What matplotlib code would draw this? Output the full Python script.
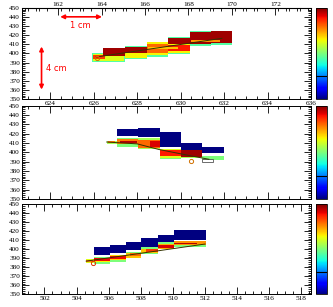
"""Three stacked cluster views (ROOT style) with track fit and colour palette."""
import matplotlib
matplotlib.use('Agg')
import matplotlib.pyplot as plt
from matplotlib.ticker import MultipleLocator
from matplotlib import colors, cm

# boxes: x0, x1, y0, y1, level (0..1 on the palette)
p1_x0 = [625.9, 625.95, 625.95, 626.45, 627.45, 627.45, 627.45, 628.45, 628.45, 628.45,
         629.4, 629.4, 629.4, 629.4, 630.45, 630.45, 631.4, 631.4, 628.5, 630.5]
p1_x1 = [627.45, 627.4, 626.5, 627.45, 628.45, 628.45, 628.45, 629.4, 629.4, 629.4,
         630.45, 630.45, 630.45, 630.45, 631.4, 631.4, 632.35, 632.35, 629.9, 631.8]
p1_y0 = [390.5, 391.5, 393.5, 397.5, 393.5, 394.5, 400.0, 396.5, 398.0, 401.0,
         399.5, 401.0, 403.0, 410.0, 408.5, 410.0, 409.5, 411.5, 404.5, 412.0]
p1_y1 = [400.0, 399.5, 398.0, 405.5, 408.5, 407.5, 407.5, 413.0, 412.0, 410.0,
         418.0, 417.0, 409.5, 417.0, 424.0, 423.0, 425.0, 424.5, 407.5, 415.0]
p1_lev = [0.45, 0.62, 0.85, 0.97, 0.45, 0.65, 0.97, 0.45, 0.65, 0.8,
          0.45, 0.65, 0.88, 0.97, 0.45, 0.97, 0.45, 0.97, 0.7, 0.75]

p2_x0 = [627.05, 628.05, 629.05, 630.0, 631.0,
         626.6, 626.65, 627.05, 627.05, 627.2, 628.05, 628.05, 628.6,
         629.05, 629.05, 629.05, 630.0, 630.0, 631.0]
p2_x1 = [628.05, 629.05, 630.0, 631.0, 632.0,
         627.05, 627.0, 628.05, 628.05, 628.0, 629.05, 629.05, 629.05,
         630.0, 630.0, 630.0, 631.0, 631.0, 632.0]
p2_y0 = [417.5, 416.0, 405.5, 400.0, 399.0,
         409.3, 409.8, 406.0, 408.5, 410.0, 403.0, 405.0, 406.0,
         392.5, 394.0, 396.0, 394.0, 395.0, 392.0]
p2_y1 = [424.7, 426.4, 421.5, 410.0, 405.4,
         412.3, 411.8, 415.0, 414.5, 412.5, 415.0, 413.0, 412.0,
         403.5, 403.0, 402.0, 402.0, 402.0, 396.0]
p2_lev = [0.0, 0.0, 0.0, 0.0, 0.0,
          0.55, 0.78, 0.5, 0.78, 0.95, 0.55, 0.8, 0.92,
          0.5, 0.62, 0.88, 0.55, 0.97, 0.5]

p3_x0 = [505.06, 506.06, 507.06, 508.04, 509.08, 510.06,
         504.56, 504.6, 505.08, 505.08, 505.08, 506.06, 506.06, 506.06,
         507.06, 507.06, 507.3, 508.04, 508.04, 508.3, 509.08, 509.08, 509.08,
         510.06, 510.06, 510.06]
p3_x1 = [506.06, 507.06, 508.04, 509.08, 510.06, 512.06,
         505.08, 505.05, 506.06, 506.06, 506.06, 507.06, 507.06, 507.06,
         508.04, 508.04, 508.04, 509.08, 509.08, 509.08, 510.06, 510.06, 510.06,
         512.06, 512.06, 511.5]
p3_y0 = [393.7, 395.5, 399.2, 403.0, 408.4, 411.0,
         385.0, 386.0, 384.0, 386.0, 387.5, 386.5, 388.0, 389.5,
         390.0, 391.0, 392.5, 394.4, 396.0, 397.5, 400.0, 401.0, 402.0,
         403.0, 404.8, 405.5]
p3_y1 = [402.2, 404.8, 408.5, 412.2, 416.5, 421.4,
         389.0, 388.5, 391.5, 391.0, 390.5, 394.0, 393.7, 392.5,
         397.5, 396.5, 395.5, 403.0, 401.0, 400.0, 408.4, 406.0, 404.5,
         409.6, 409.0, 407.5]
p3_lev = [0.0, 0.0, 0.0, 0.0, 0.0, 0.0,
          0.62, 0.78, 0.5, 0.65, 0.9, 0.5, 0.68, 0.9,
          0.5, 0.7, 0.8, 0.5, 0.7, 0.85, 0.5, 0.72, 0.92,
          0.5, 0.75, 0.95]

# track fits and hit markers
p1_trk_x = [626.1, 631.9]
p1_trk_y = [396.0, 416.5]
p1_hit_x = [626.15]
p1_hit_y = [394.5]
p2_trk_x = [626.6, 628.0, 629.0, 630.4, 631.3]
p2_trk_y = [411.0, 409.0, 403.0, 396.5, 392.5]
p2_hit_x = [630.5]
p2_hit_y = [391.0]
p3_trk_x = [504.6, 512.0]
p3_trk_y = [387.0, 406.0]
p3_hit_x = [505.0]
p3_hit_y = [385.3]

xlim_top = (622.7, 636.0)
xlim_bot = (500.6, 518.6)
top_shift = 462.36
y_ticks = list(range(350, 451, 10))


def style_axes(ax, xlim, label_bottom):
    ax.set_xlim(*xlim)
    ax.set_ylim(350, 450)
    ax.xaxis.set_major_locator(MultipleLocator(2))
    ax.xaxis.set_minor_locator(MultipleLocator(0.5))
    ax.set_yticks(y_ticks)
    ax.yaxis.set_minor_locator(MultipleLocator(2))
    ax.tick_params(which='both', direction='in', top=True, right=True, width=0.6,
                   labelsize=5.2, pad=1.5, labelbottom=label_bottom)
    ax.tick_params(which='major', length=5)
    ax.tick_params(which='minor', length=2.5)
    for s in ax.spines.values():
        s.set_linewidth(0.7)


def draw_boxes(ax, x0, x1, y0, y1, lev, cmap, norm):
    for a, b, c, d, v in zip(x0, x1, y0, y1, lev):
        ax.bar(a, d - c, width=b - a, bottom=c, align='edge',
               color=cmap(norm(v)), linewidth=0)


def add_cbar(fig, rect, cmap, norm):
    cax = fig.add_axes(rect)
    cb = fig.colorbar(cm.ScalarMappable(norm=norm, cmap=cmap), cax=cax)
    cb.set_ticks([])
    cb.outline.set_linewidth(0.6)
    cax.axhline(0.25, color='black', lw=0.8)


def main():
    plt.rcParams['font.family'] = ['Liberation Serif', 'DejaVu Serif']
    cmap = plt.get_cmap('jet')
    norm = colors.Normalize(0, 1)
    fig = plt.figure(figsize=(3.33, 3.07), dpi=100)

    left, width = 0.066, 0.868
    rows = [(0.677, 0.298), (0.352, 0.304), (0.041, 0.293)]

    # panel 1
    ax1 = fig.add_axes([left, rows[0][0], width, rows[0][1]])
    style_axes(ax1, xlim_top, True)
    ax1.tick_params(top=False)
    draw_boxes(ax1, p1_x0, p1_x1, p1_y0, p1_y1, p1_lev, cmap, norm)
    ax1.plot(p1_trk_x, p1_trk_y, color='#333300', lw=0.7)
    ax1.plot(p1_hit_x, p1_hit_y, 'o', mfc='none', mec='#d07000', ms=3, mew=0.7)
    sec = ax1.secondary_xaxis('top', functions=(lambda x: x - top_shift,
                                                lambda x: x + top_shift))
    sec.xaxis.set_major_locator(MultipleLocator(2))
    sec.xaxis.set_minor_locator(MultipleLocator(0.5))
    sec.tick_params(which='both', direction='in', width=0.6, labelsize=5.2, pad=0.3)
    sec.tick_params(which='major', length=5)
    sec.tick_params(which='minor', length=2.5)
    # scale arrows
    ax1.annotate('', xy=(626.38, 440), xytext=(624.46, 440),
                 arrowprops=dict(arrowstyle='<|-|>', color='red', lw=1.2,
                                 mutation_scale=6, shrinkA=0, shrinkB=0))
    ax1.text(625.4, 430, '1 cm', color='red', fontsize=6, family='DejaVu Sans',
             ha='center', va='center')
    ax1.annotate('', xy=(623.6, 407.5), xytext=(623.6, 360.5),
                 arrowprops=dict(arrowstyle='<|-|>', color='red', lw=1.2,
                                 mutation_scale=6, shrinkA=0, shrinkB=0))
    ax1.text(624.3, 384, '4 cm', color='red', fontsize=6, family='DejaVu Sans',
             ha='center', va='center')

    # panel 2
    ax2 = fig.add_axes([left, rows[1][0], width, rows[1][1]])
    style_axes(ax2, xlim_top, False)
    draw_boxes(ax2, p2_x0, p2_x1, p2_y0, p2_y1, p2_lev, cmap, norm)
    ax2.bar(631.0, 2.5, width=0.5, bottom=390.0, align='edge', fill=False,
            edgecolor='#555555', linewidth=0.6)
    ax2.plot(p2_trk_x, p2_trk_y, color='#333300', lw=0.7)
    ax2.plot(p2_hit_x, p2_hit_y, 'o', mfc='none', mec='#d07000', ms=3, mew=0.7)

    # panel 3
    ax3 = fig.add_axes([left, rows[2][0], width, rows[2][1]])
    style_axes(ax3, xlim_bot, True)
    draw_boxes(ax3, p3_x0, p3_x1, p3_y0, p3_y1, p3_lev, cmap, norm)
    ax3.plot(p3_trk_x, p3_trk_y, color='#333300', lw=0.7)
    ax3.plot(p3_hit_x, p3_hit_y, 'o', mfc='none', mec='#e03000', ms=3, mew=0.7)

    for b, h in rows:
        add_cbar(fig, [0.949, b, 0.033, h], cmap, norm)

    fig.savefig('out.png', dpi=100)


if __name__ == '__main__':
    main()
